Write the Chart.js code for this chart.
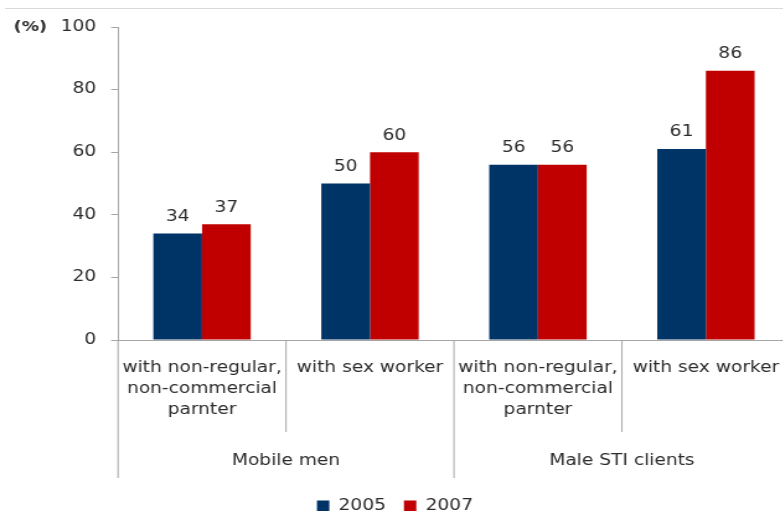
<!DOCTYPE html>
<html>
<head>
<meta charset="utf-8">
<script src="https://cdn.jsdelivr.net/npm/chart.js@4"></script>
<style>
  html, body { margin: 0; padding: 0; background: #fff; }
  #wrap { position: relative; width: 783px; height: 511px; overflow: hidden; }
  #topline { position: absolute; left: 5px; right: 0; top: 8px; height: 1px; background: #d9d9d9; z-index: 1; }
  /* the whole chart is drawn a bit wide, like the original slide */
  #box { position: absolute; left: 0; top: 0; transform: scaleX(1.24); transform-origin: 0 0; }
</style>
</head>
<body>
<div id="wrap">
  <div id="box"><canvas id="chart" width="639" height="524"></canvas></div>
  <div id="topline"></div>
</div>
<script>
const categories = [
  ["with non-regular,", "non-commercial", "parnter"],
  ["with sex worker"],
  ["with non-regular,", "non-commercial", "parnter"],
  ["with sex worker"]
];
const groups = ["Mobile men", "Male STI clients"];
const years = ["2005", "2007"];
const values2005 = [34, 50, 56, 61];
const values2007 = [37, 60, 56, 86];
const yTicks = [0, 20, 40, 60, 80, 100];

const FONT = "'DejaVu Sans', Verdana, sans-serif";
const LINE = "#a6a6a6";
const TEXT = "#2b2b2b";

// value labels on top of each bar + "(%)" unit + two-level category lines
const extras = {
  id: "extras",
  afterDatasetsDraw(chart) {
    const ctx = chart.ctx;
    ctx.save();
    ctx.font = "15px " + FONT;
    ctx.fillStyle = TEXT;
    ctx.textAlign = "center";
    ctx.textBaseline = "bottom";
    chart.data.datasets.forEach((ds, i) => {
      chart.getDatasetMeta(i).data.forEach((bar, j) => {
        ctx.fillText(ds.data[j], bar.x, bar.y - 9);
      });
    });
    ctx.restore();
  },
  afterDraw(chart) {
    const ctx = chart.ctx;
    const x = chart.scales.x;
    const area = chart.chartArea;
    const step = (area.right - area.left) / categories.length;
    ctx.save();
    ctx.strokeStyle = LINE;
    ctx.lineWidth = 1;
    for (let i = 0; i <= categories.length; i++) {
      const px = area.left + i * step;
      const end = i % 2 === 0 ? 478 : 432;
      ctx.beginPath();
      ctx.moveTo(px, area.bottom);
      ctx.lineTo(px, end);
      ctx.stroke();
    }
    ctx.font = "15px " + FONT;
    ctx.fillStyle = TEXT;
    ctx.textAlign = "center";
    ctx.textBaseline = "middle";
    groups.forEach((g, i) => {
      const cx = (x.getPixelForValue(i * 2) + x.getPixelForValue(i * 2 + 1)) / 2;
      ctx.fillText(g, cx, 461);
    });
    ctx.font = "bold 14px " + FONT;
    ctx.textAlign = "left";
    ctx.fillText("(%)", 11, area.top);
    ctx.restore();
  }
};

new Chart(document.getElementById("chart"), {
  type: "bar",
  data: {
    labels: categories,
    datasets: [
      { label: years[0], data: values2005, backgroundColor: "#003366" },
      { label: years[1], data: values2007, backgroundColor: "#c00000" }
    ]
  },
  options: {
    responsive: false,
    animation: false,
    layout: { padding: { top: 27, left: 0, right: 2, bottom: 0 } },
    datasets: { bar: { categoryPercentage: 0.58, barPercentage: 1.0 } },
    plugins: {
      legend: {
        position: "bottom",
        labels: {
          boxWidth: 10,
          boxHeight: 12,
          padding: 14.5,
          color: TEXT,
          font: { family: FONT, size: 15 }
        }
      },
      tooltip: { enabled: false }
    },
    scales: {
      x: {
        grid: { display: false },
        border: { color: LINE },
        ticks: {
          color: TEXT,
          padding: 10,
          maxRotation: 0,
          autoSkip: false,
          font: { family: FONT, size: 15, lineHeight: 1.4 }
        },
        afterFit(scale) { scale.height = 144.5; }
      },
      y: {
        min: 0,
        max: 100,
        afterBuildTicks(scale) { scale.ticks = yTicks.map(v => ({ value: v })); },
        grid: { display: true, drawOnChartArea: false, drawTicks: true, tickLength: 5.6, color: LINE },
        border: { color: LINE },
        ticks: {
          color: TEXT,
          padding: 12,
          font: { family: FONT, size: 15 }
        },
        afterFit(scale) { scale.width = 95.2; }
      }
    }
  },
  plugins: [extras]
});
</script>
</body>
</html>
